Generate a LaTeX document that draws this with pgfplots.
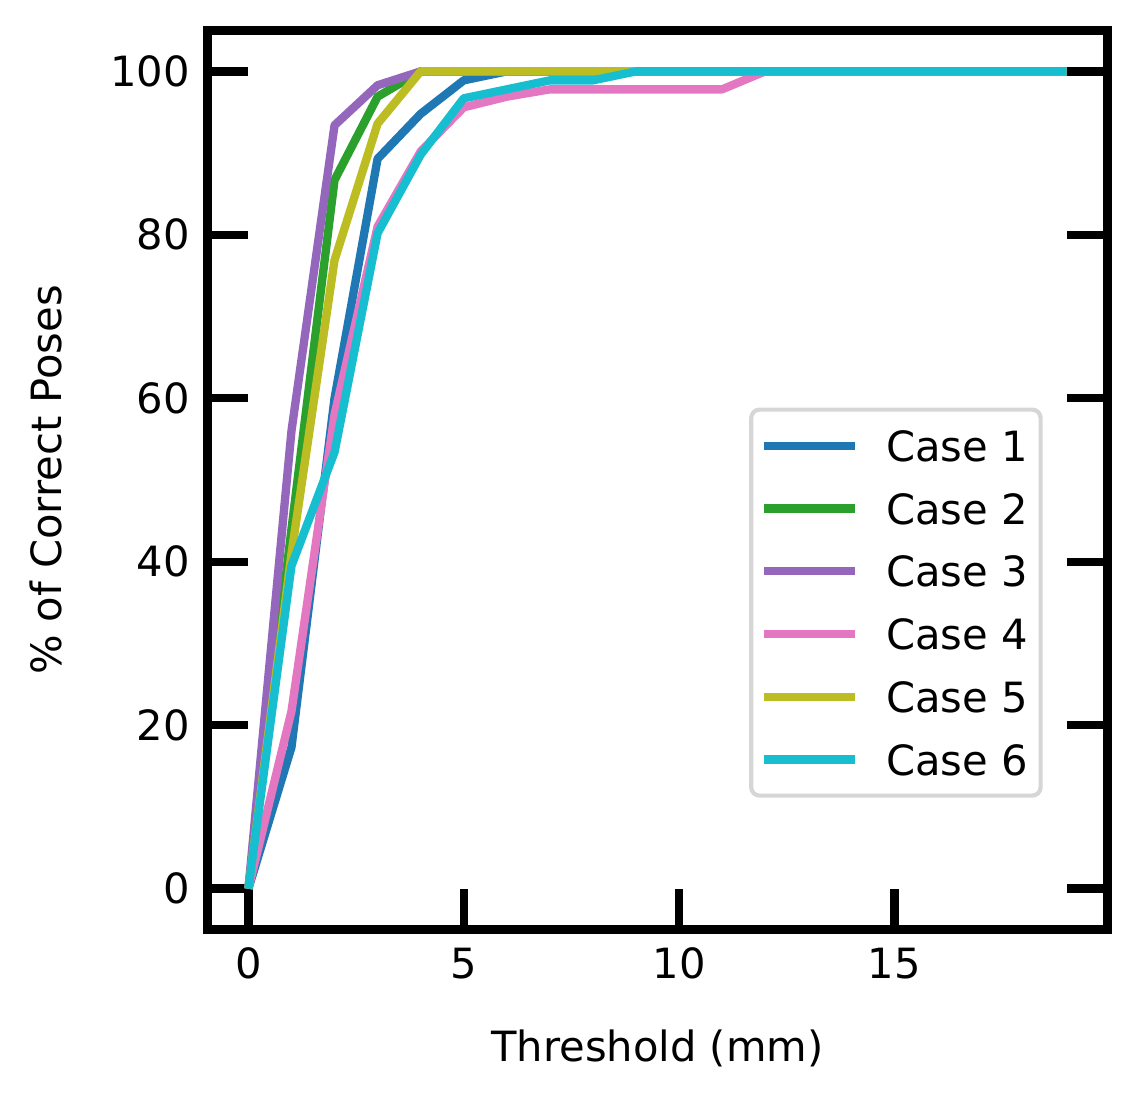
\documentclass[border=0pt]{standalone}
\usepackage{fontspec}
\setmainfont{DejaVu Sans}
\usepackage{pgfplots}
\pgfplotsset{compat=1.18}
\definecolor{cA}{HTML}{1F77B4}
\definecolor{cB}{HTML}{2CA02C}
\definecolor{cC}{HTML}{9467BD}
\definecolor{cD}{HTML}{E377C2}
\definecolor{cE}{HTML}{BCBD22}
\definecolor{cF}{HTML}{17BECF}
\definecolor{legedge}{HTML}{D6D6D6}
\begin{document}
\begin{tikzpicture}
\useasboundingbox (-49.8bp,-40.92bp) rectangle (223.08bp,223.08bp);
\begin{axis}[
  at={(0,0)}, anchor=south west,
  width=216bp, height=215.76bp, scale only axis,
  xmin=-0.95, xmax=19.95, ymin=-5, ymax=105,
  xtick={0,5,10,15}, ytick={0,20,40,60,80,100},
  xtick pos=bottom, ytick pos=both, yticklabel pos=left,
  tick align=inside,
  major tick length=9.8bp,
  every tick/.style={line width=2bp, black},
  axis line style={line width=2bp},
  /pgf/number format/assume math mode=true,
  tick label style={font=\fontsize{10bp}{12bp}\selectfont},
  yticklabel style={inner sep=0pt, xshift=-4.1bp},
  xticklabel style={inner sep=0pt, yshift=-4.2bp},
  label style={font=\fontsize{10bp}{12bp}\selectfont},
  xlabel={Threshold (mm)},
  ylabel={\% of Correct Poses},
  xlabel style={at={(axis description cs:0.5,-0.1469)}, anchor=base, inner sep=0pt},
  ylabel style={at={(axis description cs:-0.162,0.5)}, rotate=0, anchor=base, inner sep=0pt},
  legend style={at={(0.928,0.5806)}, anchor=north east,
    draw=legedge, line width=1bp, rounded corners=2bp, fill=white,
    inner xsep=3.05bp, inner ysep=2.44bp, row sep=2.55bp, column sep=7.44bp,
    font=\fontsize{10bp}{12bp}\selectfont,
    nodes={inner sep=0pt, text height=10bp, text depth=2.5bp}},
  legend cell align=left,
  legend image code/.code={\draw[#1, line width=2bp, overlay, sharp corners] (0bp,0bp) -- (21.9bp,0bp); \path[draw=none, fill=none] (0bp,-1bp) rectangle (21.9bp,1bp);},
  every axis plot/.append style={line width=2bp, line join=round},
]
\addplot[cA] coordinates {(0,0) (1,17.3) (2,60) (3,89.3) (4,94.8) (5,98.9) (6,100) (7,100) (8,100) (9,100) (10,100) (11,100) (12,100) (13,100) (14,100) (15,100) (16,100) (17,100) (18,100) (19,100)};
\addlegendentry{Case 1}
\addplot[cB] coordinates {(0,0) (1,44) (2,86.7) (3,96.9) (4,100) (5,100) (6,100) (7,100) (8,100) (9,100) (10,100) (11,100) (12,100) (13,100) (14,100) (15,100) (16,100) (17,100) (18,100) (19,100)};
\addlegendentry{Case 2}
\addplot[cC] coordinates {(0,0) (1,56) (2,93.4) (3,98.3) (4,100) (5,100) (6,100) (7,100) (8,100) (9,100) (10,100) (11,100) (12,100) (13,100) (14,100) (15,100) (16,100) (17,100) (18,100) (19,100)};
\addlegendentry{Case 3}
\addplot[cD] coordinates {(0,0) (1,21.7) (2,58) (3,81) (4,90.2) (5,95.6) (6,96.9) (7,97.8) (8,97.8) (9,97.8) (10,97.8) (11,97.8) (12,100) (13,100) (14,100) (15,100) (16,100) (17,100) (18,100) (19,100)};
\addlegendentry{Case 4}
\addplot[cE] coordinates {(0,0) (1,41) (2,76.9) (3,93.6) (4,100) (5,100) (6,100) (7,100) (8,100) (9,100) (10,100) (11,100) (12,100) (13,100) (14,100) (15,100) (16,100) (17,100) (18,100) (19,100)};
\addlegendentry{Case 5}
\addplot[cF] coordinates {(0,0) (1,39.5) (2,53.4) (3,80.2) (4,89.8) (5,96.7) (6,97.8) (7,98.9) (8,98.9) (9,100) (10,100) (11,100) (12,100) (13,100) (14,100) (15,100) (16,100) (17,100) (18,100) (19,100)};
\addlegendentry{Case 6}
\end{axis}
\end{tikzpicture}
\end{document}
